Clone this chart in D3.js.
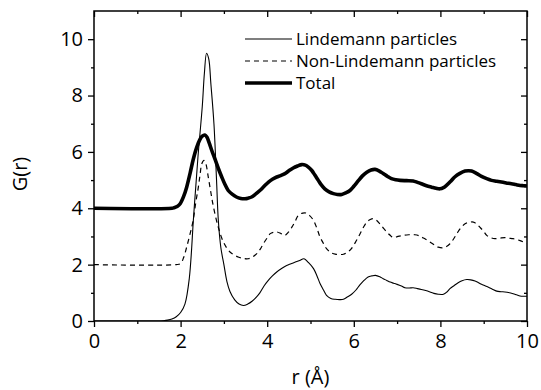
<!DOCTYPE html>
<html>
<head>
<meta charset="utf-8">
<script src="https://cdn.jsdelivr.net/npm/d3@7"></script>
<style>
  body { margin: 0; background: #fff; }
  svg { display: block; }
</style>
</head>
<body>
<div id="chart"></div>
<script>
// G(r) curves, as [r, G] pairs
const lindemann = [
  [0, 0], [1.5, 0], [1.6, 0.01], [1.7, 0.03], [1.8, 0.07], [1.9, 0.15], [2.0, 0.3],
  [2.1, 0.6], [2.2, 1.5], [2.3, 3.7], [2.4, 5.8], [2.5, 7.6], [2.55, 8.8], [2.6, 9.5],
  [2.65, 9.3], [2.7, 8.4], [2.77, 7.0], [2.83, 5.0], [2.87, 3.6], [2.93, 2.6], [3.0, 2.0],
  [3.07, 1.4], [3.14, 1.05], [3.25, 0.75], [3.35, 0.6], [3.45, 0.55], [3.55, 0.6],
  [3.65, 0.7], [3.75, 0.85], [3.83, 1.0], [3.93, 1.25], [4.03, 1.45], [4.12, 1.6],
  [4.22, 1.74], [4.35, 1.88], [4.45, 1.97], [4.55, 2.03], [4.65, 2.09], [4.75, 2.15],
  [4.85, 2.21], [4.95, 2.08], [5.07, 1.86], [5.15, 1.6], [5.22, 1.33], [5.3, 1.1],
  [5.37, 0.91], [5.47, 0.8], [5.57, 0.77], [5.67, 0.76], [5.76, 0.77], [5.85, 0.85],
  [5.95, 0.95], [6.05, 1.1], [6.14, 1.28], [6.23, 1.43], [6.33, 1.56], [6.42, 1.6],
  [6.5, 1.62], [6.6, 1.57], [6.68, 1.5], [6.76, 1.44], [6.84, 1.38], [6.92, 1.34],
  [7.0, 1.3], [7.1, 1.24], [7.18, 1.18], [7.28, 1.17], [7.37, 1.18], [7.47, 1.15],
  [7.56, 1.12], [7.66, 1.08], [7.76, 1.03], [7.85, 0.98], [7.95, 0.95], [8.07, 0.95],
  [8.15, 1.03], [8.22, 1.15], [8.32, 1.26], [8.41, 1.36], [8.5, 1.43], [8.61, 1.47],
  [8.7, 1.46], [8.8, 1.42], [8.88, 1.36], [8.95, 1.3], [9.03, 1.25], [9.11, 1.2],
  [9.2, 1.13], [9.3, 1.06], [9.4, 1.04], [9.49, 1.03], [9.6, 1.0], [9.68, 0.97],
  [9.76, 0.93], [9.84, 0.89], [9.92, 0.88], [10, 0.88]
];

const nonLindemann = [
  [0, 2], [1.9, 2], [2.0, 2.04], [2.07, 2.25], [2.14, 2.62], [2.22, 3.1], [2.29, 3.57],
  [2.35, 4.2], [2.41, 4.75], [2.45, 5.2], [2.49, 5.58], [2.54, 5.7], [2.58, 5.6],
  [2.64, 5.1], [2.7, 4.55], [2.76, 4.04], [2.87, 3.33], [2.99, 2.8], [3.14, 2.45],
  [3.33, 2.27], [3.45, 2.22], [3.56, 2.21], [3.66, 2.27], [3.76, 2.39], [3.84, 2.55],
  [3.91, 2.74], [4.0, 2.95], [4.07, 3.1], [4.15, 3.15], [4.22, 3.16], [4.32, 3.1],
  [4.41, 3.04], [4.49, 3.15], [4.57, 3.33], [4.65, 3.55], [4.72, 3.75], [4.82, 3.83],
  [4.9, 3.83], [4.98, 3.74], [5.07, 3.57], [5.15, 3.28], [5.22, 2.98], [5.3, 2.75],
  [5.37, 2.57], [5.47, 2.43], [5.57, 2.37], [5.67, 2.36], [5.76, 2.37], [5.85, 2.44],
  [5.93, 2.54], [6.04, 2.8], [6.14, 3.08], [6.22, 3.32], [6.3, 3.51], [6.38, 3.6],
  [6.45, 3.63], [6.52, 3.58], [6.6, 3.45], [6.68, 3.3], [6.76, 3.16], [6.84, 3.04],
  [6.91, 2.96], [7.02, 3.0], [7.14, 3.04], [7.27, 3.06], [7.41, 3.06], [7.5, 3.03],
  [7.56, 2.98], [7.66, 2.9], [7.76, 2.8], [7.86, 2.7], [7.95, 2.62], [8.07, 2.6],
  [8.15, 2.65], [8.22, 2.74], [8.3, 2.9], [8.38, 3.1], [8.47, 3.3], [8.57, 3.45],
  [8.66, 3.5], [8.76, 3.51], [8.84, 3.44], [8.91, 3.33], [9.0, 3.18], [9.07, 3.04],
  [9.16, 2.96], [9.26, 2.92], [9.37, 2.94], [9.49, 2.96], [9.58, 2.94], [9.68, 2.92],
  [9.76, 2.89], [9.84, 2.85], [9.92, 2.8], [10, 2.74]
];

const total = [
  [0, 4], [1.8, 4], [1.85, 4.02], [1.92, 4.06], [1.99, 4.16], [2.07, 4.42], [2.14, 4.75],
  [2.22, 5.25], [2.29, 5.72], [2.37, 6.15], [2.45, 6.45], [2.5, 6.56], [2.56, 6.6],
  [2.61, 6.52], [2.66, 6.32], [2.72, 6.05], [2.79, 5.76], [2.87, 5.42], [2.95, 5.11],
  [3.02, 4.86], [3.1, 4.63], [3.19, 4.5], [3.29, 4.4], [3.39, 4.35], [3.49, 4.34],
  [3.56, 4.36], [3.64, 4.4], [3.73, 4.5], [3.83, 4.63], [3.93, 4.78], [4.03, 4.93],
  [4.12, 5.03], [4.22, 5.11], [4.31, 5.16], [4.41, 5.23], [4.5, 5.33], [4.6, 5.43],
  [4.7, 5.5], [4.8, 5.55], [4.88, 5.53], [4.95, 5.46], [5.03, 5.34], [5.1, 5.18],
  [5.18, 4.99], [5.25, 4.83], [5.33, 4.69], [5.43, 4.58], [5.53, 4.52], [5.62, 4.49],
  [5.72, 4.49], [5.82, 4.55], [5.91, 4.63], [6.0, 4.78], [6.1, 4.97], [6.2, 5.15],
  [6.3, 5.28], [6.4, 5.36], [6.49, 5.38], [6.58, 5.33], [6.68, 5.23], [6.78, 5.13],
  [6.87, 5.05], [6.97, 5.01], [7.07, 4.99], [7.22, 4.98], [7.37, 4.97], [7.47, 4.92],
  [7.56, 4.87], [7.68, 4.8], [7.8, 4.75], [7.9, 4.71], [7.99, 4.69], [8.07, 4.73],
  [8.14, 4.81], [8.24, 4.96], [8.33, 5.11], [8.45, 5.24], [8.57, 5.32], [8.65, 5.33],
  [8.72, 5.32], [8.83, 5.24], [8.95, 5.13], [9.07, 5.05], [9.18, 4.99], [9.3, 4.96],
  [9.41, 4.93], [9.52, 4.9], [9.64, 4.87], [9.74, 4.84], [9.84, 4.81], [9.92, 4.8],
  [10, 4.79]
];

const xMajor = [0, 2, 4, 6, 8, 10];
const xMinor = [1, 3, 5, 7, 9];
const yMajor = [0, 2, 4, 6, 8, 10];
const yMinor = [1, 3, 5, 7, 9];

const legendNames = ["Lindemann particles", "Non-Lindemann particles", "Total"];

const width = 541;
const height = 390;
const margin = { top: 11, right: 14, bottom: 69, left: 94 };
const font = "'Open Sans', sans-serif";

const svg = d3.select("#chart")
  .append("svg")
  .attr("width", width)
  .attr("height", height)
  .attr("viewBox", [0, 0, width, height]);

const x = d3.scaleLinear()
  .domain([0, 10])
  .range([margin.left, width - margin.right]);

const y = d3.scaleLinear()
  .domain([0, 11])
  .range([height - margin.bottom, margin.top]);

const line = d3.line()
  .x(d => x(d[0]))
  .y(d => y(d[1]))
  .curve(d3.curveCatmullRom.alpha(0.5));

svg.append("clipPath")
  .attr("id", "plot")
  .append("rect")
  .attr("x", x(0))
  .attr("y", y(11))
  .attr("width", x(10) - x(0))
  .attr("height", y(0) - y(11));

const plot = svg.append("g").attr("clip-path", "url(#plot)");

plot.append("path")
  .datum(lindemann)
  .attr("fill", "none")
  .attr("stroke", "#000")
  .attr("stroke-width", 1.1)
  .attr("d", line);

plot.append("path")
  .datum(nonLindemann)
  .attr("fill", "none")
  .attr("stroke", "#000")
  .attr("stroke-width", 1.2)
  .attr("stroke-dasharray", "5,4")
  .attr("d", line);

plot.append("path")
  .datum(total)
  .attr("fill", "none")
  .attr("stroke", "#000")
  .attr("stroke-width", 3.6)
  .attr("d", line);

// axes: ticks out on bottom/left, in on top/right
function styleAxis(g) {
  g.select(".domain").remove();
  g.selectAll(".tick line").attr("stroke-width", 1.3);
  g.selectAll("text")
    .attr("font-family", font)
    .attr("font-size", 20)
    .attr("fill", "#000");
}

svg.append("g")
  .attr("transform", `translate(0,${y(0)})`)
  .call(d3.axisBottom(x).tickValues(xMajor).tickSize(6).tickSizeOuter(0).tickPadding(7).tickFormat(d3.format("d")))
  .call(styleAxis);
svg.append("g")
  .attr("transform", `translate(0,${y(0)})`)
  .call(d3.axisBottom(x).tickValues(xMinor).tickSize(3).tickFormat(""))
  .call(styleAxis);

svg.append("g")
  .attr("transform", `translate(${x(0)},0)`)
  .call(d3.axisLeft(y).tickValues(yMajor).tickSize(6).tickPadding(5).tickFormat(d3.format("d")))
  .call(styleAxis);
svg.append("g")
  .attr("transform", `translate(${x(0)},0)`)
  .call(d3.axisLeft(y).tickValues(yMinor).tickSize(3).tickFormat(""))
  .call(styleAxis);

svg.append("g")
  .attr("transform", `translate(0,${y(11)})`)
  .call(d3.axisBottom(x).tickValues(xMajor).tickSize(6).tickFormat(""))
  .call(styleAxis);
svg.append("g")
  .attr("transform", `translate(0,${y(11)})`)
  .call(d3.axisBottom(x).tickValues(xMinor).tickSize(3).tickFormat(""))
  .call(styleAxis);

svg.append("g")
  .attr("transform", `translate(${x(10)},0)`)
  .call(d3.axisLeft(y).tickValues(yMajor).tickSize(6).tickFormat(""))
  .call(styleAxis);
svg.append("g")
  .attr("transform", `translate(${x(10)},0)`)
  .call(d3.axisLeft(y).tickValues(yMinor).tickSize(3).tickFormat(""))
  .call(styleAxis);

svg.append("rect")
  .attr("x", x(0))
  .attr("y", y(11))
  .attr("width", x(10) - x(0))
  .attr("height", y(0) - y(11))
  .attr("fill", "none")
  .attr("stroke", "#000")
  .attr("stroke-width", 1.5);

// axis titles
svg.append("text")
  .attr("x", (x(0) + x(10)) / 2)
  .attr("y", 384)
  .attr("text-anchor", "middle")
  .attr("font-family", font)
  .attr("font-size", 20)
  .text("r (Å)");

svg.append("text")
  .attr("transform", `translate(27,${(y(0) + y(11)) / 2 + 8}) rotate(-90)`)
  .attr("text-anchor", "middle")
  .attr("font-family", font)
  .attr("font-size", 20)
  .text("G(r)");

// legend
const legendStyles = [
  { w: 1.1, dash: null },
  { w: 1.2, dash: "5,4" },
  { w: 3.6, dash: null }
];
const legend = svg.append("g").attr("transform", "translate(245,39)");
legendNames.forEach((name, i) => {
  const row = legend.append("g").attr("transform", `translate(0,${i * 22})`);
  row.append("line")
    .attr("x1", 0).attr("x2", 47)
    .attr("stroke", "#000")
    .attr("stroke-width", legendStyles[i].w)
    .attr("stroke-dasharray", legendStyles[i].dash);
  row.append("text")
    .attr("x", 51)
    .attr("dy", "0.35em")
    .attr("font-family", font)
    .attr("font-size", 17)
    .text(name);
});
</script>
</body>
</html>
